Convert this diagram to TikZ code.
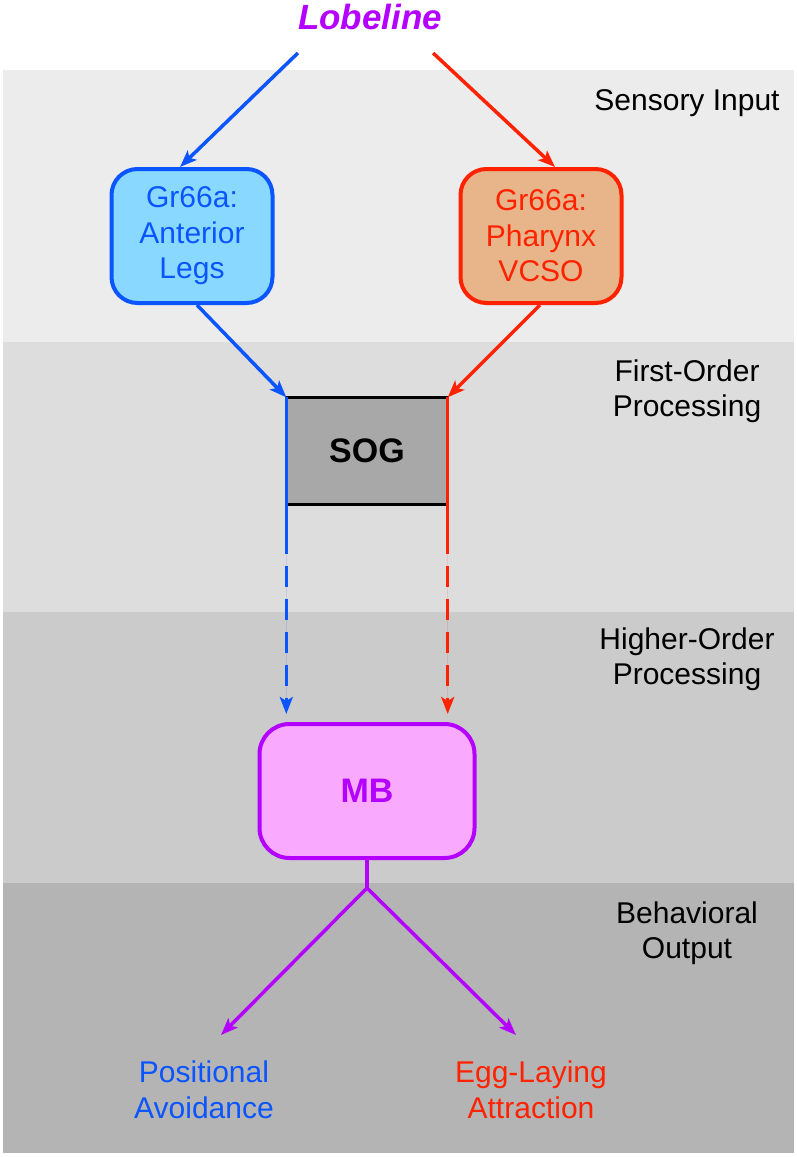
\documentclass[tikz,border=0pt]{standalone}
\usepackage{fontspec}
\setmainfont{Liberation Sans}
\usetikzlibrary{arrows.meta, calc, positioning}
\definecolor{bandA}{RGB}{236,236,236}
\definecolor{bandB}{RGB}{221,221,221}
\definecolor{bandC}{RGB}{203,203,203}
\definecolor{bandD}{RGB}{180,180,180}
\definecolor{legblue}{RGB}{10,85,255}
\definecolor{legfill}{RGB}{136,216,255}
\definecolor{phxred}{RGB}{255,34,0}
\definecolor{phxfill}{RGB}{232,180,138}
\definecolor{mbpurple}{RGB}{180,0,255}
\definecolor{mbfill}{RGB}{249,170,255}
\definecolor{soggray}{RGB}{168,168,168}

\begin{document}
\begin{tikzpicture}[x=1pt, y=-1pt,
  every node/.style = {font=\fontsize{30}{35.5}\selectfont, align=center, inner sep=0pt},
  sensor/.style   = {rectangle, rounded corners=26pt, line width=4pt, minimum width=161pt, minimum height=134pt},
  legbox/.style   = {sensor, fill=legfill, draw=legblue, text=legblue},
  phxbox/.style   = {sensor, fill=phxfill, draw=phxred, text=phxred},
  sogbox/.style   = {rectangle, fill=soggray, minimum width=161pt, minimum height=107pt, font=\fontsize{34}{40}\selectfont\bfseries},
  mbbox/.style    = {rectangle, rounded corners=30pt, line width=4pt, fill=mbfill, draw=mbpurple, text=mbpurple, minimum width=215pt, minimum height=134pt, font=\fontsize{34}{40}\selectfont\bfseries},
  level/.style    = {text=black},
  arr/.style      = {-{Stealth[length=17pt, width=13pt, inset=4pt]}, line width=3.5pt},
  bluearr/.style  = {arr, draw=legblue, fill=legblue},
  redarr/.style   = {arr, draw=phxred, fill=phxred},
  purparr/.style  = {arr, draw=mbpurple, fill=mbpurple},
  dashline/.style = {dash pattern=on 21pt off 12pt},
]
\useasboundingbox (0,0) rectangle (797,1157);
% Processing bands
\fill[bandA] (3,70) rectangle (794,342);
\fill[bandB] (3,342) rectangle (794,612);
\fill[bandC] (3,612) rectangle (794,883);
\fill[bandD] (3,883) rectangle (794,1153);
% Band labels
\node[level] (sensory) at (687,103) {Sensory Input};
\node[level] (first) at (687,391) {First-Order\\Processing};
\node[level] (higher) at (687,659) {Higher-Order\\Processing};
\node[level] (behav) at (687,933) {Behavioral\\Output};
% Stimulus
\node[text=mbpurple, font=\fontsize{35}{40}\selectfont\bfseries\itshape] (lob) at (370,17) {Lobeline};
% Receptors
\node[legbox] (legs) at (192,236) {Gr66a:\\Anterior\\Legs};
\node[phxbox] (phx) at (541,236) {Gr66a:\\Pharynx\\VCSO};
% SOG and MB
\node[sogbox] (sog) at (367,451) {SOG};
\node[mbbox] (mb) at (367,791) {MB};
% Outputs
\node[text=legblue] (avoid) at (204,1090) {Positional\\Avoidance};
\node[text=phxred] (egg) at (531,1090) {Egg-Laying\\Attraction};
% Arrows: stimulus to receptors
\draw[bluearr] ([yshift=-23pt]lob.south west) -- ([xshift=-12pt]legs.north);
\draw[redarr] ([xshift=-9pt, yshift=-23pt]lob.south east) -- ([xshift=14pt]phx.north);
% Receptors to SOG
\draw[bluearr] ([xshift=5pt]legs.south) -- (sog.north west);
\draw[redarr] ([xshift=-1pt]phx.south) -- (sog.north east);
\draw[line width=3.5pt] (sog.north west) -- (sog.north east);
\draw[line width=3.5pt] (sog.south west) -- (sog.south east);
\coordinate (bsplit) at ($(sog.south west)+(0,28)$);
\coordinate (rsplit) at ($(sog.south east)+(0,28)$);
\draw[legblue, line width=3.5pt] (sog.north west) -- (bsplit);
\draw[phxred, line width=3.5pt] (sog.north east) -- (rsplit);
% SOG to MB
\draw[bluearr, dashline, shorten >=8pt] (bsplit) -- (bsplit |- mb.north);
\draw[redarr, dashline, shorten >=8pt] (rsplit) -- (rsplit |- mb.north);
% MB to behaviour
\coordinate (fork) at (367,888);
\coordinate (tipL) at (221,1035);
\coordinate (tipR) at (516,1035);
\draw[mbpurple, line width=3.5pt] (mb.south) -- (fork);
\draw[purparr] (fork) -- (tipL);
\draw[purparr] (fork) -- (tipR);
\end{tikzpicture}
\end{document}
